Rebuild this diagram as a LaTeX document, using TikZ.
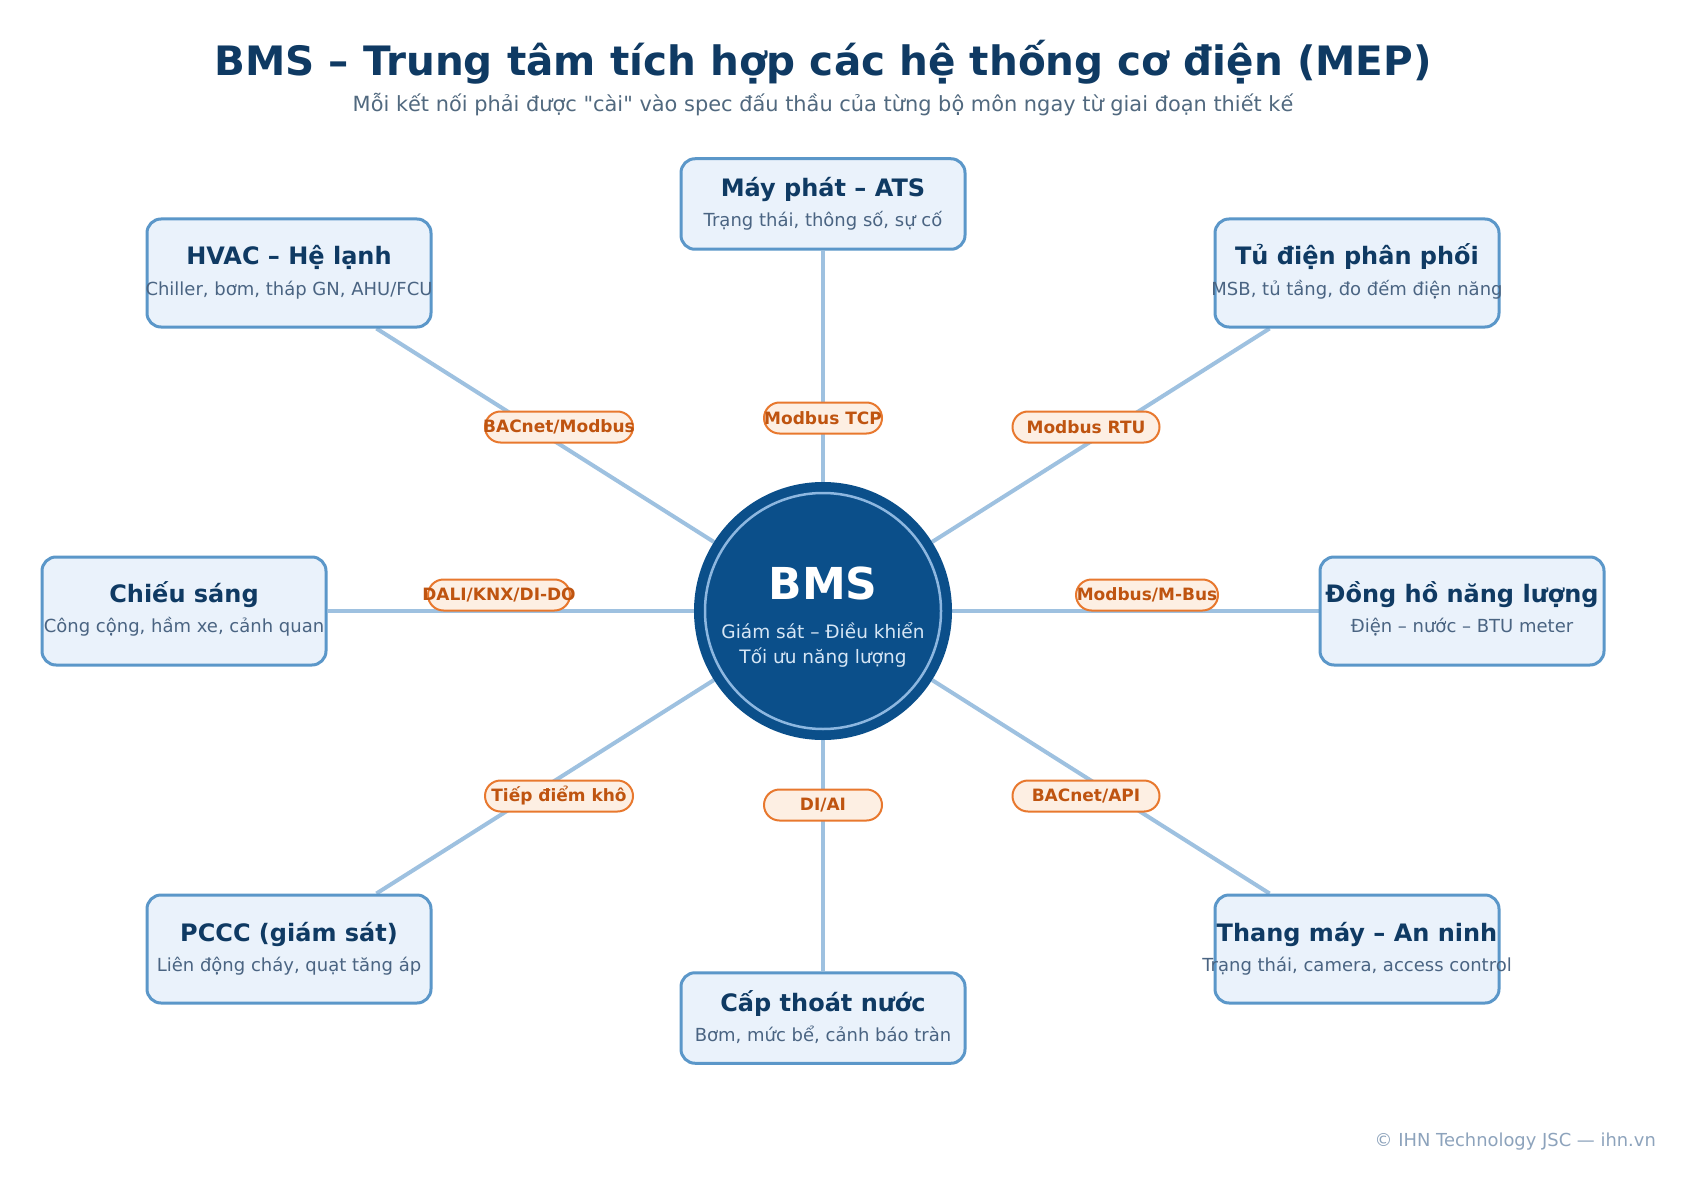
\documentclass[tikz,border=0pt]{standalone}
\usepackage{fontspec}
\setmainfont{DejaVu Sans}[Ligatures=TeXOff]
\usetikzlibrary{backgrounds}
\definecolor{navy}{HTML}{0F3A63}
\definecolor{hsub}{HTML}{51697F}
\definecolor{boxfill}{HTML}{EAF2FB}
\definecolor{boxdraw}{HTML}{5B97C9}
\definecolor{subc}{HTML}{4A6482}
\definecolor{connc}{HTML}{9EC1E0}
\definecolor{circfill}{HTML}{0B4F8A}
\definecolor{ringc}{HTML}{8DB7E0}
\definecolor{circtxt}{HTML}{D6E6F5}
\definecolor{labfill}{HTML}{FDEFE3}
\definecolor{labdraw}{HTML}{E8782E}
\definecolor{labtext}{HTML}{BF5410}
\definecolor{footc}{HTML}{8DA3BC}
\tikzset{
  mbox/.style={draw=boxdraw, line width=3pt, fill=boxfill, rounded corners=14pt,
    minimum width=284pt, minimum height=108pt, inner sep=0pt},
  mtitle/.style={font=\fontsize{24}{28}\selectfont\bfseries, text=navy, inner sep=0pt, anchor=base},
  msub/.style={font=\fontsize{18}{22}\selectfont, text=subc, inner sep=0pt, anchor=base},
  proto/.style={draw=labdraw, line width=2pt, fill=labfill, rounded corners=15.5pt,
    minimum height=31pt, inner sep=0pt, font=\fontsize{17}{20}\selectfont\bfseries, text=labtext},
  conn/.style={draw=connc, line width=4pt},
}
\newcommand\mepbox[7]{%
  \node[mbox, minimum height=#4] (#1) at (#2,#3) {};
  \node[mtitle] (#1-t) at (#2,#3-#5) {#6};
  \node[msub] (#1-s) at (#2,#3-#5+30) {#7};
}
\newcommand\plab[1]{\makebox[0pt]{#1}}
\begin{document}
\begin{tikzpicture}[x=1pt, y=-1pt]
\useasboundingbox (0,0) rectangle (1697,1190);

\node[font=\fontsize{40.5}{46}\selectfont\bfseries, text=navy, anchor=base, inner sep=0pt] (title) at (823,76)
  {BMS – Trung tâm tích hợp các hệ thống cơ điện (MEP)};
\node[font=\fontsize{20.9}{25}\selectfont, text=hsub, anchor=base, inner sep=0pt] (subtitle) at (823,112)
  {Mỗi kết nối phải được "cài" vào spec đấu thầu của từng bộ môn ngay từ giai đoạn thiết kế};

% centre
\node[circle, fill=circfill, minimum size=258pt, inner sep=0pt] (bms) at (823,611) {};
\node[circle, draw=ringc, line width=2.5pt, minimum size=236pt, inner sep=0pt] (ring) at (823,611) {};
\node[font=\fontsize{44}{48}\selectfont\bfseries, text=white, anchor=base, inner sep=0pt] (bms-t) at (823,599) {BMS};
\node[font=\fontsize{18.5}{22}\selectfont, text=circtxt, anchor=base, inner sep=0pt] (bms-s1) at (823,638) {Giám sát – Điều khiển};
\node[font=\fontsize{18.5}{22}\selectfont, text=circtxt, anchor=base, inner sep=0pt] (bms-s2) at (823,663) {Tối ưu năng lượng};

% boxes
\mepbox{hvac}{289}{273}{108pt}{8}{HVAC – Hệ lạnh}{Chiller, bơm, tháp GN, AHU/FCU}
\mepbox{gen}{823}{204}{90.5pt}{7}{Máy phát – ATS}{Trạng thái, thông số, sự cố}
\mepbox{elec}{1357}{273}{108pt}{8}{Tủ điện phân phối}{MSB, tủ tầng, đo đếm điện năng}
\mepbox{light}{184}{611}{108pt}{9}{Chiếu sáng}{Công cộng, hầm xe, cảnh quan}
\mepbox{meter}{1462}{611}{108pt}{9}{Đồng hồ năng lượng}{Điện – nước – BTU meter}
\mepbox{fire}{289}{949}{108pt}{8}{PCCC (giám sát)}{Liên động cháy, quạt tăng áp}
\mepbox{water}{823}{1018}{90.5pt}{7}{Cấp thoát nước}{Bơm, mức bể, cảnh báo tràn}
\mepbox{lift}{1357}{949}{108pt}{8}{Thang máy – An ninh}{Trạng thái, camera, access control}

% connectors
\begin{scope}[on background layer]
  \fill[white] (0,0) rectangle (1697,1190);
  \draw[conn] (hvac) -- (bms);
  \draw[conn] (gen) -- (bms);
  \draw[conn] (elec) -- (bms);
  \draw[conn] (light) -- (bms);
  \draw[conn] (meter) -- (bms);
  \draw[conn] (fire) -- (bms);
  \draw[conn] (water) -- (bms);
  \draw[conn] (lift) -- (bms);
\end{scope}

% protocol labels
\node[proto, minimum width=148pt] (p-hvac) at (559,427) {\plab{BACnet/Modbus}};
\node[proto, minimum width=118pt] (p-gen) at (823,418) {\plab{Modbus TCP}};
\node[proto, minimum width=147pt] (p-elec) at (1086,427) {\plab{Modbus RTU}};
\node[proto, minimum width=142pt] (p-light) at (499,595) {\plab{DALI/KNX/DI-DO}};
\node[proto, minimum width=142pt] (p-meter) at (1147,595) {\plab{Modbus/M-Bus}};
\node[proto, minimum width=148pt] (p-fire) at (559,796) {\plab{Tiếp điểm khô}};
\node[proto, minimum width=118pt] (p-water) at (823,805) {\plab{DI/AI}};
\node[proto, minimum width=147pt] (p-lift) at (1086,796) {\plab{BACnet/API}};

\node[font=\fontsize{17.9}{21}\selectfont, text=footc, anchor=base east, inner sep=0pt] (footer) at (1656,1146)
  {© IHN Technology JSC — ihn.vn};
\end{tikzpicture}
\end{document}
